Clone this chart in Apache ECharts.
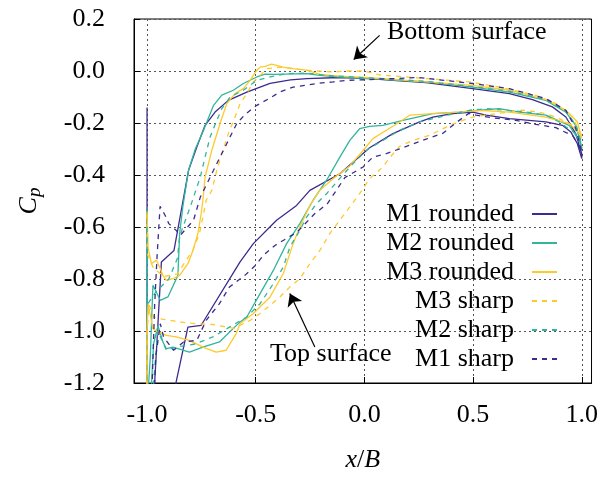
<!DOCTYPE html>
<html><head><meta charset="utf-8">
<script src="https://cdn.jsdelivr.net/npm/echarts@6/dist/echarts.min.js"></script>
<style>html,body{margin:0;padding:0;background:#fff}#c{width:601px;height:478px}</style>
</head><body><div id="c"></div>
<script>
const xTicks = [-1, -0.5, 0, 0.5, 1];
const legendOrder = ['M1 rounded', 'M2 rounded', 'M3 rounded', 'M3 sharp', 'M2 sharp', 'M1 sharp'];

const m1Rounded = [[-1,-0.14],[-1,-1.35],[-0.975,-1.35],[-0.965,-1.2],[-0.934,-0.735],[-0.876,-0.69],[-0.809,-0.382],[-0.771,-0.292],[-0.733,-0.209],[-0.687,-0.158],[-0.626,-0.113],[-0.541,-0.081],[-0.434,-0.048],[-0.34,-0.034],[-0.266,-0.029],[-0.113,-0.025],[0.024,-0.029],[0.131,-0.036],[0.284,-0.045],[0.498,-0.068],[0.667,-0.087],[0.773,-0.11],[0.865,-0.138],[0.927,-0.177],[0.972,-0.241],[1.0,-0.318],[1.0,-0.337],[0.98,-0.28],[0.95,-0.235],[0.911,-0.209],[0.835,-0.196],[0.667,-0.183],[0.56,-0.17],[0.498,-0.158],[0.406,-0.164],[0.315,-0.177],[0.254,-0.196],[0.131,-0.241],[0.024,-0.295],[-0.113,-0.395],[-0.251,-0.459],[-0.312,-0.517],[-0.404,-0.574],[-0.511,-0.664],[-0.572,-0.734],[-0.751,-0.978],[-0.812,-0.985],[-0.866,-1.196],[-0.88,-1.3]];

const m2Rounded = [[-1,-0.53],[-1,-1.3],[-0.985,-1.1],[-0.973,-0.824],[-0.939,-0.882],[-0.904,-0.869],[-0.858,-0.786],[-0.85,-0.625],[-0.835,-0.52],[-0.809,-0.382],[-0.778,-0.3],[-0.74,-0.228],[-0.694,-0.132],[-0.656,-0.093],[-0.603,-0.074],[-0.557,-0.048],[-0.495,-0.023],[-0.457,-0.012],[-0.419,-0.013],[-0.266,-0.01],[-0.205,-0.017],[-0.113,-0.023],[0.024,-0.029],[0.284,-0.042],[0.498,-0.062],[0.667,-0.081],[0.835,-0.113],[0.927,-0.158],[0.972,-0.209],[1.0,-0.292],[1.0,-0.3],[0.988,-0.267],[0.942,-0.209],[0.835,-0.17],[0.713,-0.158],[0.621,-0.145],[0.529,-0.151],[0.437,-0.158],[0.315,-0.164],[0.177,-0.19],[0.085,-0.209],[0.024,-0.213],[-0.022,-0.222],[-0.067,-0.267],[-0.113,-0.331],[-0.174,-0.42],[-0.236,-0.497],[-0.297,-0.587],[-0.358,-0.664],[-0.419,-0.767],[-0.48,-0.856],[-0.541,-0.946],[-0.572,-0.965],[-0.667,-1.042],[-0.743,-1.062],[-0.805,-1.081],[-0.881,-1.062],[-0.911,-1.068],[-0.927,-1.042],[-0.95,-0.98],[-0.97,-1.05],[-0.985,-1.3]];

const m3Rounded = [[-1,-0.54],[-0.995,-0.68],[-0.98,-0.741],[-0.957,-0.728],[-0.942,-0.754],[-0.927,-0.786],[-0.911,-0.805],[-0.881,-0.799],[-0.85,-0.786],[-0.812,-0.741],[-0.789,-0.69],[-0.766,-0.625],[-0.751,-0.549],[-0.743,-0.497],[-0.733,-0.408],[-0.702,-0.305],[-0.664,-0.202],[-0.633,-0.125],[-0.595,-0.087],[-0.557,-0.068],[-0.526,-0.036],[-0.495,0.003],[-0.48,0.015],[-0.457,0.018],[-0.427,0.026],[-0.373,0.015],[-0.328,0.009],[-0.266,0.003],[-0.205,-0.013],[-0.113,-0.02],[0.024,-0.026],[0.284,-0.042],[0.498,-0.055],[0.667,-0.074],[0.835,-0.11],[0.927,-0.151],[0.98,-0.196],[1.0,-0.26],[0.99,-0.24],[0.942,-0.202],[0.835,-0.177],[0.667,-0.158],[0.529,-0.151],[0.437,-0.158],[0.315,-0.164],[0.208,-0.17],[0.162,-0.196],[0.101,-0.228],[0.039,-0.26],[0.0,-0.3],[-0.067,-0.365],[-0.144,-0.414],[-0.205,-0.459],[-0.251,-0.517],[-0.297,-0.6],[-0.328,-0.664],[-0.373,-0.779],[-0.434,-0.869],[-0.511,-0.933],[-0.572,-0.972],[-0.59,-1.01],[-0.636,-1.074],[-0.682,-1.081],[-0.743,-1.062],[-0.805,-1.036],[-0.866,-1.023],[-0.911,-1.017],[-0.95,-1.004],[-0.973,-0.991],[-0.995,-0.895],[-1,-1.0],[-1,-1.3]];

const m1Sharp = [[-0.98,-1.3],[-0.965,-0.9],[-0.954,-0.715],[-0.94,-0.52],[-0.917,-0.555],[-0.9,-0.587],[-0.866,-0.613],[-0.847,-0.632],[-0.786,-0.574],[-0.755,-0.485],[-0.694,-0.382],[-0.664,-0.331],[-0.633,-0.279],[-0.603,-0.228],[-0.587,-0.202],[-0.549,-0.167],[-0.495,-0.132],[-0.438,-0.106],[-0.389,-0.081],[-0.328,-0.062],[-0.22,-0.048],[-0.144,-0.042],[-0.083,-0.036],[0.024,-0.033],[0.25,-0.025],[0.498,-0.048],[0.667,-0.068],[0.835,-0.106],[0.927,-0.151],[0.972,-0.22],[1.0,-0.31],[0.96,-0.25],[0.881,-0.218],[0.789,-0.205],[0.697,-0.19],[0.59,-0.18],[0.514,-0.17],[0.48,-0.163],[0.42,-0.2],[0.36,-0.24],[0.284,-0.262],[0.193,-0.29],[0.101,-0.318],[0.039,-0.331],[-0.006,-0.369],[-0.09,-0.41],[-0.17,-0.51],[-0.23,-0.55],[-0.31,-0.62],[-0.41,-0.67],[-0.465,-0.709],[-0.5,-0.747],[-0.55,-0.786],[-0.621,-0.831],[-0.667,-0.895],[-0.728,-0.959],[-0.771,-1.036],[-0.832,-1.042],[-0.878,-1.074],[-0.924,-1.023],[-0.939,-0.972],[-0.96,-1.1],[-0.97,-1.3]];

const m2Sharp = [[-1,-0.6],[-1,-0.9],[-0.96,-0.85],[-0.9,-0.8],[-0.86,-0.72],[-0.85,-0.638],[-0.835,-0.6],[-0.8,-0.52],[-0.755,-0.408],[-0.733,-0.331],[-0.71,-0.254],[-0.679,-0.19],[-0.656,-0.145],[-0.618,-0.1],[-0.557,-0.074],[-0.495,-0.036],[-0.434,-0.023],[-0.358,-0.01],[-0.266,-0.008],[-0.174,-0.017],[-0.052,-0.023],[0.1,-0.03],[0.284,-0.04],[0.498,-0.06],[0.667,-0.078],[0.835,-0.11],[0.927,-0.155],[0.975,-0.21],[1.0,-0.28],[0.972,-0.241],[0.896,-0.196],[0.835,-0.17],[0.743,-0.158],[0.651,-0.151],[0.56,-0.145],[0.483,-0.151],[0.346,-0.177],[0.254,-0.196],[0.162,-0.228],[0.085,-0.267],[0.009,-0.305],[-0.052,-0.356],[-0.11,-0.41],[-0.174,-0.472],[-0.22,-0.51],[-0.266,-0.562],[-0.297,-0.613],[-0.343,-0.677],[-0.373,-0.754],[-0.419,-0.818],[-0.48,-0.895],[-0.541,-0.946],[-0.621,-0.985],[-0.697,-1.023],[-0.78,-1.05],[-0.866,-1.062],[-0.911,-1.074],[-0.95,-1.0],[-0.98,-1.3]];

const m3Sharp = [[-1,-0.55],[-1,-0.7],[-0.97,-0.76],[-0.92,-0.79],[-0.86,-0.78],[-0.82,-0.728],[-0.789,-0.69],[-0.759,-0.625],[-0.743,-0.562],[-0.728,-0.497],[-0.702,-0.459],[-0.679,-0.382],[-0.656,-0.318],[-0.626,-0.241],[-0.595,-0.177],[-0.572,-0.125],[-0.541,-0.087],[-0.511,-0.042],[-0.48,-0.017],[-0.45,0.009],[-0.389,0.015],[-0.266,0.003],[-0.144,-0.004],[-0.083,0.0],[0.0,0.0],[0.07,-0.015],[0.483,-0.042],[0.636,-0.064],[0.789,-0.094],[0.881,-0.125],[0.957,-0.177],[0.995,-0.241],[1.0,-0.25],[0.957,-0.209],[0.881,-0.177],[0.804,-0.158],[0.728,-0.151],[0.6,-0.165],[0.498,-0.177],[0.452,-0.19],[0.392,-0.209],[0.346,-0.228],[0.3,-0.247],[0.223,-0.267],[0.162,-0.29],[0.12,-0.33],[0.085,-0.369],[0.024,-0.414],[-0.022,-0.472],[-0.067,-0.523],[-0.113,-0.574],[-0.159,-0.625],[-0.205,-0.69],[-0.251,-0.741],[-0.297,-0.799],[-0.343,-0.831],[-0.389,-0.869],[-0.434,-0.901],[-0.48,-0.933],[-0.526,-0.959],[-0.6,-0.99],[-0.697,-0.975],[-0.774,-0.972],[-0.85,-0.965],[-0.896,-0.959],[-0.95,-0.952],[-0.97,-0.946],[-0.99,-0.9],[-1,-1.0],[-1,-1.3]];

const bottomArrow = [[0.07, 0.137], [-0.049, 0.044]];
const topArrow = [[-0.228, -1.062], [-0.343, -0.856]];

const FONT = 'Liberation Serif';
const C1 = '#3d2b8e', C2 = '#31b59d', C3 = '#fdca2e';

function mk(name, data, color, dashed) {
  return {
    name, type: 'line', data, symbol: 'none', showSymbol: false, clip: true,
    lineStyle: { color, width: 1.3, type: dashed ? [5, 5] : 'solid' },
    itemStyle: { color }, animation: false
  };
}

const chart = echarts.init(document.getElementById('c'));
chart.setOption({
  animation: false,
  backgroundColor: '#fff',
  grid: { left: 134, right: 8, top: 19, bottom: 95, show: true, borderColor: '#000', borderWidth: 1 },
  xAxis: {
    type: 'value', min: -1.06, max: 1.045,
    axisLine: { show: true, onZero: false, lineStyle: { color: '#000', width: 1 } },
    axisTick: { show: true, inside: true, length: 6, customValues: xTicks, lineStyle: { color: '#000' } },
    axisLabel: { customValues: xTicks, formatter: v => v.toFixed(1), fontFamily: FONT, fontSize: 26, color: '#000', margin: 19 },
    splitLine: { show: true, lineStyle: { color: '#555', type: [2, 3], width: 1 } },
    name: '{i|x}/{i|B}', nameLocation: 'middle', nameGap: 64,
    nameTextStyle: { fontFamily: FONT, fontSize: 26, color: '#000', rich: { i: { fontFamily: FONT, fontSize: 26, fontStyle: 'italic', color: '#000' } } }
  },
  yAxis: {
    type: 'value', min: -1.2, max: 0.2, interval: 0.2,
    axisLine: { show: true, onZero: false, lineStyle: { color: '#000', width: 1 } },
    axisTick: { show: true, inside: true, length: 6, lineStyle: { color: '#000' } },
    axisLabel: { formatter: v => (Math.abs(v) < 1e-9 ? 0 : v).toFixed(1), fontFamily: FONT, fontSize: 26, color: '#000', margin: 29 },
    splitLine: { show: true, lineStyle: { color: '#555', type: [2, 3], width: 1 } },
    name: '{c|C}{p|p}', nameLocation: 'middle', nameGap: 90, nameRotate: 90,
    nameTextStyle: { rich: {
      c: { fontFamily: FONT, fontSize: 26, fontStyle: 'italic', color: '#000', lineHeight: 30 },
      p: { fontFamily: FONT, fontSize: 19, fontStyle: 'italic', color: '#000', lineHeight: 30, verticalAlign: 'bottom', padding: [12, 0, 0, 0] }
    } }
  },
  legend: {
    data: legendOrder, orient: 'vertical', right: 38, top: 196, align: 'right',
    itemWidth: 25, itemHeight: 14, itemGap: 3,
    itemStyle: { opacity: 0 },
    formatter: name => '{t|' + name + '}',
    textStyle: { fontFamily: FONT, fontSize: 26, color: '#000', lineHeight: 26,
      rich: { t: { fontFamily: FONT, fontSize: 26, color: '#000', lineHeight: 26, padding: [0, 13, 0, 0] } } },
    selectedMode: false
  },
  graphic: [
    { type: 'text', left: 387, top: 19, style: { text: 'Bottom surface', font: '26px "Liberation Serif"', fill: '#000' } },
    { type: 'text', left: 270, top: 341, style: { text: 'Top surface', font: '26px "Liberation Serif"', fill: '#000' } }
  ],
  series: [
    mk('M1 rounded', m1Rounded, C1, false),
    mk('M2 rounded', m2Rounded, C2, false),
    mk('M3 rounded', m3Rounded, C3, false),
    mk('M3 sharp', m3Sharp, C3, true),
    mk('M2 sharp', m2Sharp, C2, true),
    mk('M1 sharp', m1Sharp, C1, true),
    {
      name: 'annotations', type: 'line', data: [], silent: true,
      markLine: {
        silent: true, animation: false, symbol: ['none', 'arrow'], symbolSize: 12,
        lineStyle: { color: '#000', width: 1.2, type: 'solid' }, label: { show: false },
        data: [
          [{ coord: bottomArrow[0] }, { coord: bottomArrow[1] }],
          [{ coord: topArrow[0] }, { coord: topArrow[1] }]
        ]
      }
    }
  ]
});
</script></body></html>
